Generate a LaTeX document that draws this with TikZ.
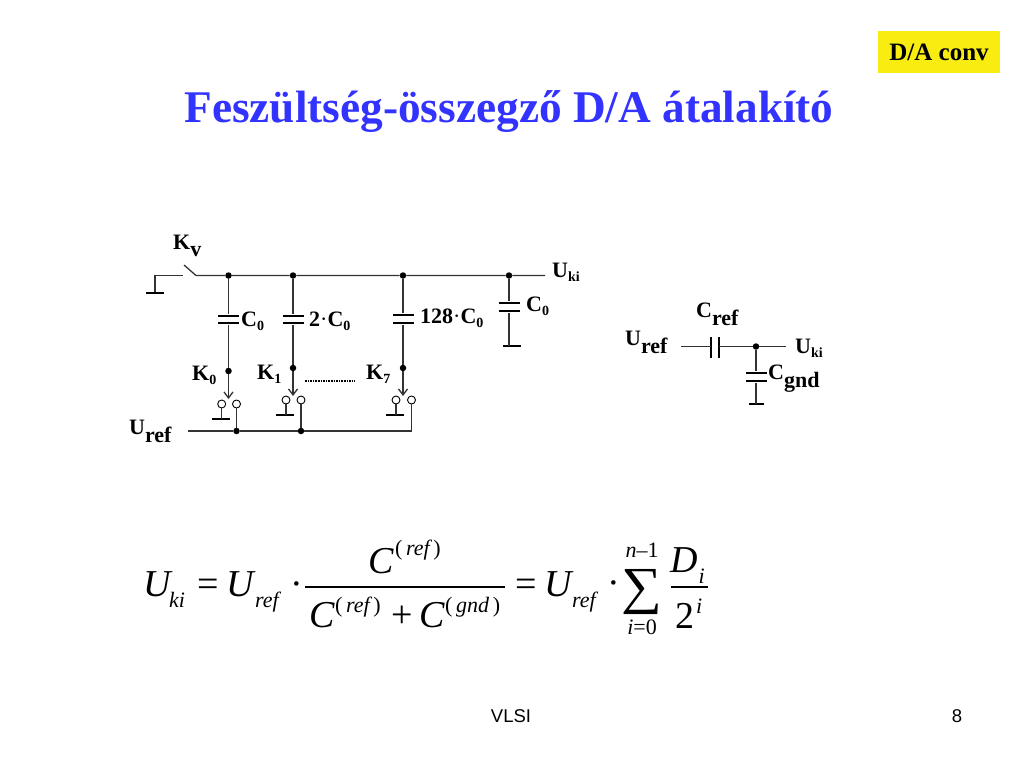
\documentclass[tikz,border=0pt]{standalone}
\usepackage{fontspec}
\setmainfont{Liberation Serif}
\newfontfamily\vlsifont{Liberation Sans}
\usetikzlibrary{arrows.meta}
\definecolor{titleblue}{RGB}{51,51,255}
\definecolor{tagyellow}{RGB}{248,236,16}
\newcommand{\lowbig}[1]{\raisebox{-8pt}{#1}}
\newcommand{\lowsmall}[1]{\raisebox{-4pt}{\fontsize{14}{14}\selectfont #1}}
\tikzset{
lbl/.style={anchor=base west,inner sep=0pt,font=\fontsize{22}{22}\selectfont\bfseries},
big/.style={anchor=base west,inner sep=0pt,font=\fontsize{38}{38}\selectfont\itshape},
sym/.style={anchor=base west,inner sep=0pt,font=\fontsize{38}{38}\selectfont},
mid/.style={anchor=base west,inner sep=0pt,font=\fontsize{22}{22}\selectfont\itshape},
dot/.style={circle,fill=black,minimum size=6.5pt,inner sep=0pt},
contact/.style={circle,draw,fill=white,line width=0.9pt,minimum size=8pt,inner sep=0pt},
plate/.style={rectangle,fill=black,minimum width=21pt,minimum height=2.8pt,inner sep=0pt},
vplate/.style={rectangle,fill=black,minimum width=2.8pt,minimum height=21pt,inner sep=0pt},
gnd/.style={rectangle,fill=black,minimum width=18pt,minimum height=2.4pt,inner sep=0pt},
wire/.style={line width=1.3pt,black!80},
sw/.style={wire,-{Straight Barb[length=6pt,width=9pt]}}
}
\begin{document}
\begin{tikzpicture}[x=1pt,y=-1pt]
\useasboundingbox (0,0) rectangle (1024,768);

\node[fill=tagyellow,minimum width=122pt,minimum height=41pt,inner sep=0pt,font=\fontsize{25}{25}\selectfont\bfseries] (tag) at (939,52) {D/A conv};
\node[anchor=base,inner sep=0pt,text=titleblue,font=\fontsize{45.3}{45.3}\selectfont\bfseries] (title) at (509,122) {Feszültség-összegző D/A átalakító};

\node[gnd] (gv) at (155,293) {};
\coordinate (gvup) at (155,275.5);
\coordinate (swl) at (183,275.5);
\coordinate (swt) at (184,265);
\coordinate (swr) at (196,275.5);
\coordinate (uki) at (545,275.5);
\node[dot] (a0) at (228.5,275.5) {};
\node[dot] (a1) at (293,275.5) {};
\node[dot] (a2) at (403,275.5) {};
\node[dot] (a3) at (509,275.5) {};
\draw[wire] (gv) -- (gvup) -- (swl);
\draw[wire] (swt) -- (swr) -- (a0) -- (a1) -- (a2) -- (a3) -- (uki);

\node[plate] (p0a) at (228.5,316) {};
\node[plate] (p0b) at (228.5,323) {};
\node[dot] (k0) at (228.5,371) {};
\coordinate (e0) at (228.5,399);
\node[contact] (c0l) at (221.7,404) {};
\node[contact] (c0r) at (236.5,404) {};
\node[gnd] (g0) at (221,419) {};
\node[dot] (u0) at (236.5,431) {};
\draw[wire] (a0) -- (p0a);
\draw[wire] (p0b) -- (k0);
\draw[sw] (k0) -- (e0);
\draw[wire] (c0l) -- (c0l |- g0);
\draw[wire] (c0r) -- (u0);

\node[plate] (p1a) at (293,316) {};
\node[plate] (p1b) at (293,323) {};
\node[dot] (k1) at (293,368) {};
\coordinate (e1) at (293,396);
\node[contact] (c1l) at (286,400) {};
\node[contact] (c1r) at (301,400) {};
\node[gnd] (g1) at (285,415) {};
\node[dot] (u1) at (301,431) {};
\draw[wire] (a1) -- (p1a);
\draw[wire] (p1b) -- (k1);
\draw[sw] (k1) -- (e1);
\draw[wire] (c1l) -- (c1l |- g1);
\draw[wire] (c1r) -- (u1);

\node[plate] (p2a) at (403,315) {};
\node[plate] (p2b) at (403,323) {};
\node[dot] (k2) at (403,368) {};
\coordinate (e2) at (403,396);
\node[contact] (c2l) at (396,400) {};
\node[contact] (c2r) at (411.5,400) {};
\node[gnd] (g2) at (394.5,415) {};
\coordinate (ucor) at (411.5,431);
\coordinate (uin) at (188,431);
\draw[wire] (a2) -- (p2a);
\draw[wire] (p2b) -- (k2);
\draw[sw] (k2) -- (e2);
\draw[wire] (c2l) -- (c2l |- g2);
\draw[wire] (uin) -- (u0) -- (u1) -- (ucor) -- (c2r);

\node[plate] (p3a) at (509,303) {};
\node[plate] (p3b) at (509,311) {};
\node[gnd] (g3) at (512,346) {};
\draw[wire] (a3) -- (p3a);
\draw[wire] (p3b) -- (p3b |- g3);

\coordinate (dl) at (305,381);
\coordinate (dr) at (355,381);
\draw[line width=1.3pt,dash pattern=on 1.5pt off 1.1pt] (dl) -- (dr);

\node[lbl] (kv) at (173,249) {K\raisebox{-7pt}{v}};
\node[lbl] (uk) at (552,277) {U\lowsmall{ki}};
\node[lbl] (t0) at (241,326) {C\lowsmall{0}};
\node[lbl] (t1) at (309,326) {2{\mdseries·}C\lowsmall{0}};
\node[lbl] (t2) at (420,323) {128{\mdseries·}C\lowsmall{0}};
\node[lbl] (t3) at (526,311) {C\lowsmall{0}};
\node[lbl] (l0) at (192,380) {K\lowsmall{0}};
\node[lbl] (l1) at (257,379) {K\lowsmall{1}};
\node[lbl] (l2) at (366,379) {K\lowsmall{7}};
\node[lbl] (ur) at (129,434) {U\lowbig{ref}};

\coordinate (rl) at (681,346.5);
\coordinate (rr) at (786,346.5);
\node[vplate] (ca) at (711,347) {};
\node[vplate] (cb) at (719,347) {};
\node[dot] (rj) at (756,346.5) {};
\node[plate] (pa) at (756,373) {};
\node[plate] (pb) at (756,381) {};
\node[gnd,minimum width=15pt,minimum height=1.5pt] (rg) at (756.5,404) {};
\draw[wire] (rl) -- (rl -| ca);
\draw[wire] (rr -| cb) -- (rj) -- (rr);
\draw[wire] (rj) -- (pa);
\draw[wire] (pb) -- (pb |- rg);

\node[lbl] (tcr) at (696,317) {C\lowbig{ref}};
\node[lbl] (tur) at (625,345) {U\lowbig{ref}};
\node[lbl] (tuk) at (795,353) {U\lowsmall{ki}};
\node[lbl] (tcg) at (768,379) {C\lowbig{gnd}};

\node[big] (f1) at (143,596) {U};
\node[mid] (f2) at (169,607) {ki};
\node[sym] (f3) at (197,596) {=};
\node[big] (f4) at (226,596) {U};
\node[mid] (f5) at (255,607) {ref};
\node[sym] (f6) at (290.4,596.5) {·};
\coordinate (ra) at (305,587);
\coordinate (rb) at (505,587);
\draw[line width=1.5pt] (ra) -- (rb);
\node[big] (f7) at (368,573) {C};
\node[mid] (f8) at (395,555) {\upshape(\,\itshape ref\,\upshape)};
\node[big] (f9) at (309,627) {C};
\node[mid] (f10) at (335,612) {\upshape(\,\itshape ref\,\upshape)};
\node[sym] (f11) at (391,627) {+};
\node[big] (f12) at (419,627) {C};
\node[mid] (f13) at (445,612) {\upshape(\,\itshape gnd\,\upshape)};
\node[sym] (f14) at (515,596) {=};
\node[big] (f15) at (544,596) {U};
\node[mid] (f16) at (572,607) {ref};
\node[sym] (f17) at (607.4,595) {·};
\node[inner sep=0pt,font=\fontsize{52}{52}\selectfont] (f18) at (642,592) {\scalebox{1.1}[1]{∑}};
\node[mid,anchor=base] (f19) at (642,557) {n\upshape–1};
\node[mid,anchor=base] (f20) at (642,634) {i\upshape=0};
\node[big] (f21) at (670,572) {D};
\node[mid] (f22) at (698.5,583) {i};
\coordinate (rc) at (671,587);
\coordinate (rd) at (708,587);
\draw[line width=1.5pt] (rc) -- (rd);
\node[sym] (f23) at (675,628) {2};
\node[mid] (f24) at (696,613) {i};

\node[anchor=base,inner sep=0pt,font=\fontsize{18.5}{18.5}\selectfont\vlsifont] (foot) at (511,722) {VLSI};
\node[anchor=base,inner sep=0pt,font=\fontsize{18.5}{18.5}\selectfont\vlsifont] (page) at (957,722) {8};
\end{tikzpicture}
\end{document}
